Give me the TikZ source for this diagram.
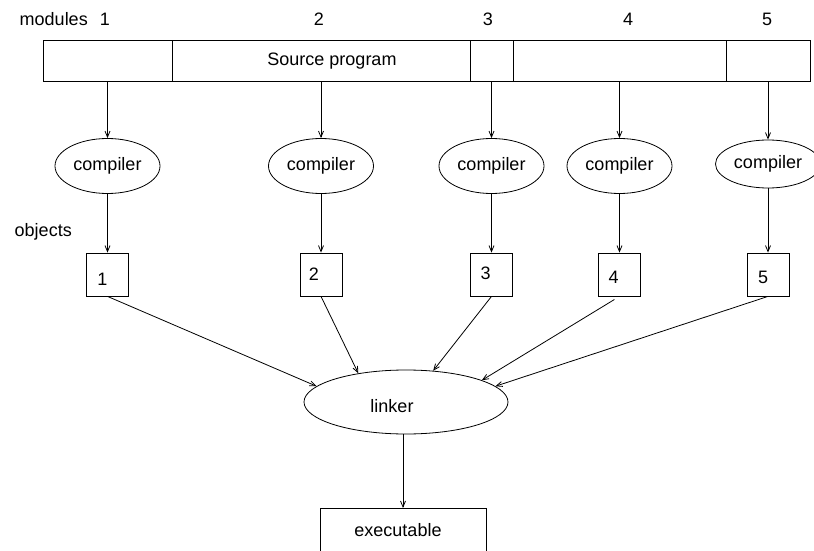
\documentclass[tikz,border=0pt]{standalone}
\usepackage{fontspec}
\setmainfont{Liberation Sans}
\usetikzlibrary{shapes.geometric,arrows.meta}

\begin{document}
\begin{tikzpicture}[x=1pt,y=1pt,line width=0.8pt,
  every node/.style={font=\fontsize{18}{21}\selectfont},
  seg/.style={draw,minimum height=41pt,inner sep=0pt},
  comp/.style={draw,ellipse,minimum width=105pt,minimum height=55pt,inner sep=0pt},
  obj/.style={draw,minimum width=42pt,minimum height=43pt,inner sep=0pt},
  arr/.style={-{Straight Barb[length=6pt,width=5pt]}}]
\useasboundingbox (0,0) rectangle (814,550);

\node[anchor=west] (modules) at (16,531) {modules};
\foreach \i/\x in {1/105,2/319,3/488,4/628,5/767}
\node (n\i) at (\x,531) {\i};

% the source program, cut into modules
\foreach \i/\x/\w in {1/107.5/129,2/321/298,3/491.5/43,4/619.5/213,5/768/84}
\node[seg,minimum width=\w pt] (m\i) at (\x,489) {};
\node (src) at (332,489) {Source program};

\foreach \i/\x/\y/\h in {1/107.5/384/55,2/321/384/55,3/491.5/384/55,4/619.5/384/55,5/768/386/48}
\node[comp,minimum height=\h pt] (c\i) at (\x,\y) {compiler};

\node[anchor=west] (objects) at (11,318) {objects};
\foreach \i/\x/\dx/\dy in {1/107.5/-5/-5,2/321/-7/0,3/491.5/-6/1,4/619.5/-6/-3,5/768/-5/-3}
{
\node[obj] (o\i) at (\x,275.5) {};
\node (l\i) at ([shift={(\dx,\dy)}]o\i.center) {\i};
}

\foreach \i in {1,...,5}
{
\draw[arr] (m\i) -- (c\i);
\draw[arr] (c\i) -- (o\i);
}

\node[draw,ellipse,minimum width=204pt,minimum height=64pt,inner sep=0pt] (linker) at (406,148) {};
\node (ltext) at (392,144) {linker};
\foreach \i/\a in {1/170,2/149,3/49,5/10}
\draw[arr] (o\i.south) -- (linker.\a);
\draw[arr,shorten <=6pt] (o4.south) -- (linker.16);

\node[draw,minimum width=166pt,minimum height=52pt,anchor=north] (exe) at (403,42) {};
\node (etext) at (398,20) {executable};
\draw[arr] (linker.south -| exe.north) -- (exe.north);
\end{tikzpicture}
\end{document}
